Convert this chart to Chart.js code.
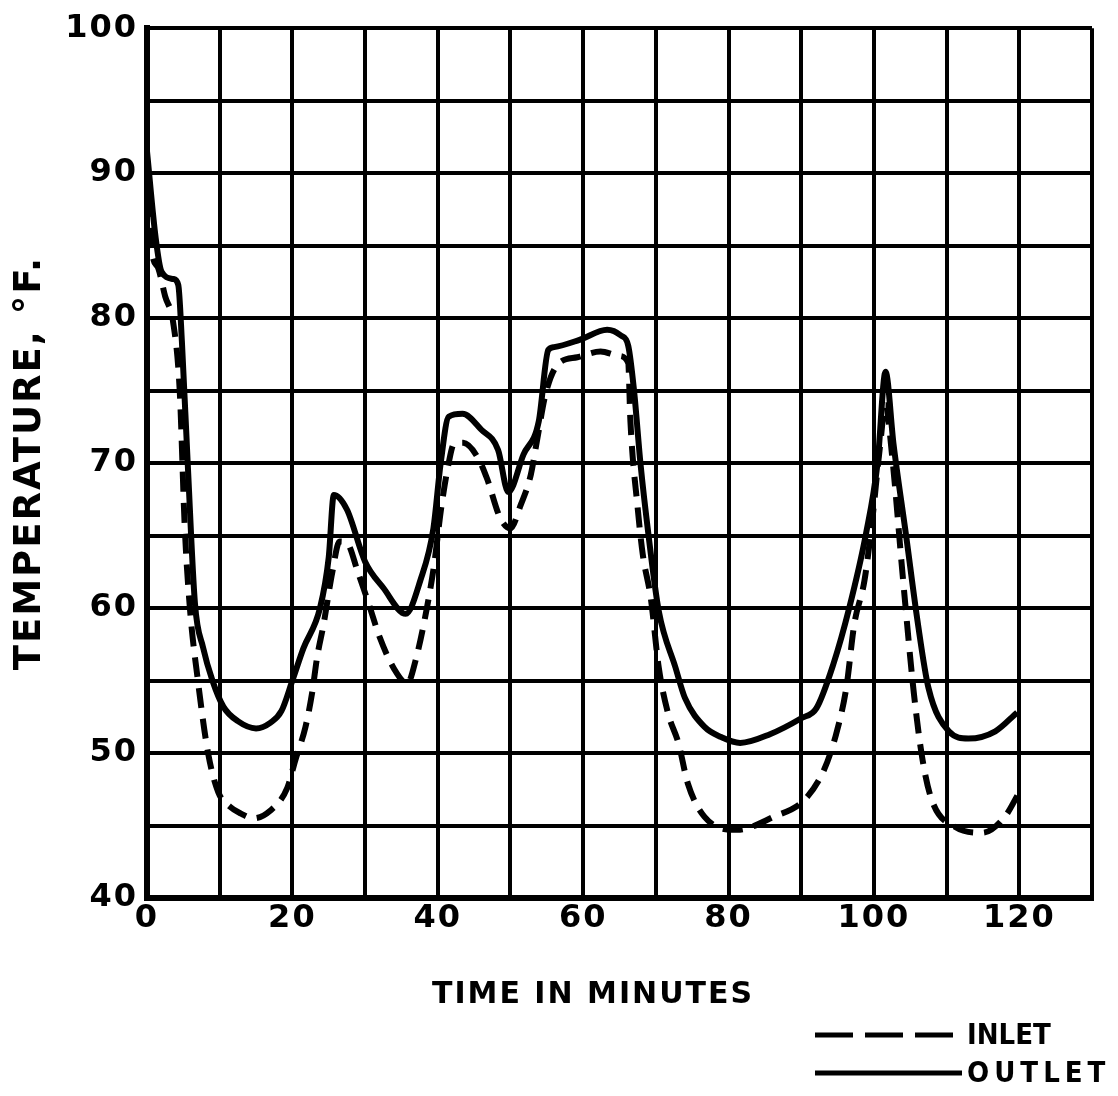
<!DOCTYPE html>
<html>
<head>
<meta charset="utf-8">
<title>Temperature vs time</title>
<style>
  html, body { margin: 0; padding: 0; background: #fff; }
  #wrap { width: 1118px; height: 1096px; position: relative; }
</style>
<script src="https://cdn.jsdelivr.net/npm/chart.js@4.4.1/dist/chart.umd.min.js"></script>
</head>
<body>
<div id="wrap"><canvas id="chart" width="1118" height="1096"></canvas></div>
<script>
// Labelled ticks (grid lines are drawn every 10 min and every 5 °F)
const xTickLabels = [0, 20, 40, 60, 80, 100, 120];
const yTickLabels = [40, 50, 60, 70, 80, 90, 100];

// Inlet temperature, °F, against time in minutes
const inletTime = [0, 0.7, 1.5, 2.5, 3.6, 4.5, 5.2, 5.9, 7, 8.4,
  9.8, 11.4, 13, 14.6, 16.9, 19.3, 20.4, 21.8, 22.7, 23.4,
  24.3, 25.5, 26.5, 27.5, 29, 30.5, 32, 34, 35.8, 37,
  38.5, 39.5, 40.5, 41.5, 42.2, 43.5, 45.6, 46.8, 48.6, 50,
  51.4, 52.8, 53.7, 54.8, 56.5, 59.2, 62.4, 64.9, 66.2, 66.5,
  67.5, 68.2, 69.3, 70.4, 71.7, 73.1, 74.4, 76.7, 81.2, 86.2,
  90.3, 93.1, 94.8, 96.2, 97.3, 98.7, 99.8, 100.8, 101.6, 102.5,
  104, 105.5, 106.7, 108, 111.2, 114.9, 118, 120];
const inletTemp = [90.5, 84.5, 83.5, 81.5, 79.7, 75, 65.5, 60, 55, 50,
  47.3, 46.3, 45.8, 45.5, 46, 47.6, 49.5, 51.8, 54.1, 56.6,
  58.9, 62.5, 64.6, 64.5, 62.5, 60.3, 58, 55.8, 54.8, 56.5,
  60, 63, 67, 70, 71.3, 71.4, 70.3, 68.9, 66.2, 65.5,
  67.1, 69.2, 71.7, 74.7, 76.8, 77.3, 77.7, 77.4, 76.9, 72.9,
  66.9, 63.7, 60.7, 55.9, 52.7, 50.7, 47.9, 45.6, 44.7, 45.6,
  46.7, 48.8, 51.3, 54.5, 58.9, 61.9, 66.2, 71, 74, 70.5,
  62, 54.1, 49.5, 46.7, 44.9, 44.5, 45.6, 47.3];

// Outlet temperature, °F, against time in minutes
const outletTime = [0, 1.2, 2, 3.6, 4.3, 4.8, 5.6, 6.6, 7.7, 9,
  10.5, 12.5, 15, 17, 18.5, 20, 21.5, 23.8, 25, 25.7,
  27.5, 30, 32.5, 35.6, 37.6, 39.4, 40.4, 41.5, 43.4, 46,
  48.3, 49.7, 51.8, 53.9, 55.2, 56, 59.5, 63.3, 65.2, 66.2,
  67, 67.9, 69, 70.4, 72.7, 74, 76.7, 79, 81.6, 85.7,
  90, 92.1, 94.4, 96.6, 98.9, 100.5, 101.6, 102.7, 104.4, 106,
  107.5, 110.3, 113, 116.7, 119.7];
const outletTemp = [91.5, 85.5, 83.2, 82.7, 82.3, 78.4, 70, 60.3, 57.3, 55,
  53.2, 52.2, 51.7, 52.1, 52.9, 55, 57.2, 60, 63.5, 67.8,
  66.8, 63.2, 61.4, 59.6, 61.9, 65.5, 70, 73.2, 73.4, 72.3,
  70.9, 68, 70.6, 72.9, 77.8, 78, 78.5, 79.2, 78.8, 78.1,
  75, 69.9, 65, 59.8, 55.9, 53.8, 51.8, 51.1, 50.7, 51.3,
  52.4, 53.1, 56.1, 60, 65.1, 70, 76.3, 71.3, 65.1, 59.1,
  54.5, 51.5, 51, 51.5, 52.8];

const seriesNames = ['INLET', 'OUTLET'];
const xTitle = 'TIME IN MINUTES';
const yTitle = 'TEMPERATURE, °F.';

const toPoints = (ts, vs) => ts.map((t, i) => ({ x: t, y: vs[i] }));

const INK = '#000';
const boldFont = (size) => ({ family: "'DejaVu Sans', sans-serif", weight: 'bold', size });
const keyFamily = "'DejaVu Sans Condensed', 'DejaVu Sans', sans-serif";

// Slightly spaced lettering for all chart text
const lettering = {
  id: 'lettering',
  beforeDraw(chart) { chart.ctx.letterSpacing = '2px'; }
};

// Time caption under the axis, and the key at the lower right
const captions = {
  id: 'captions',
  afterDraw(chart) {
    const c = chart.ctx;
    c.save();
    c.fillStyle = INK;
    c.letterSpacing = '2px';
    c.font = "bold 30px 'DejaVu Sans', sans-serif";
    c.textAlign = 'center';
    c.textBaseline = 'middle';
    c.fillText(xTitle, 593, 995);

    const rows = [
      { ds: chart.data.datasets[0], y: 1035, spacing: '0px', dash: [38, 12] },
      { ds: chart.data.datasets[1], y: 1073, spacing: '5px', dash: [] }
    ];
    rows.forEach(r => {
      c.strokeStyle = INK;
      c.lineWidth = 5;
      c.setLineDash(r.dash);
      c.beginPath();
      c.moveTo(815, r.y);
      c.lineTo(962, r.y);
      c.stroke();
      c.setLineDash([]);
      c.letterSpacing = r.spacing;
      c.font = "bold 29px " + keyFamily;
      c.textAlign = 'left';
      c.fillText(r.ds.label, 967, r.y + 1);
    });
    c.restore();
  }
};

new Chart(document.getElementById('chart'), {
  type: 'line',
  data: {
    datasets: [
      {
        label: seriesNames[0],
        data: toPoints(inletTime, inletTemp),
        borderColor: INK,
        borderWidth: 6,
        borderDash: [20, 11],
        pointRadius: 0,
        fill: false,
        cubicInterpolationMode: 'monotone'
      },
      {
        label: seriesNames[1],
        data: toPoints(outletTime, outletTemp),
        borderColor: INK,
        borderWidth: 6,
        pointRadius: 0,
        fill: false,
        cubicInterpolationMode: 'monotone'
      }
    ]
  },
  options: {
    responsive: false,
    animation: false,
    devicePixelRatio: 1,
    layout: { padding: { left: 0, top: 25, right: 26, bottom: 0 } },
    plugins: { legend: { display: false }, tooltip: { enabled: false } },
    scales: {
      x: {
        type: 'linear',
        min: 0,
        max: 130,
        afterFit(scale) { scale.height = 198; },
        ticks: {
          stepSize: 10,
          autoSkip: false,
          maxRotation: 0,
          padding: 1,
          color: INK,
          font: boldFont(32),
          callback: (v) => xTickLabels.includes(v) ? String(v) : ''
        },
        grid: { color: INK, lineWidth: 4, drawTicks: false },
        border: { color: INK, width: 6 },
        title: { display: false }
      },
      y: {
        min: 40,
        max: 100,
        afterFit(scale) { scale.width = 147; },
        ticks: {
          stepSize: 5,
          autoSkip: false,
          padding: 9,
          color: INK,
          font: boldFont(32),
          callback: (v) => yTickLabels.includes(v) ? String(v) : ''
        },
        grid: { color: INK, lineWidth: 4, drawTicks: false },
        border: { color: INK, width: 6 },
        title: {
          display: true,
          text: yTitle,
          color: INK,
          font: boldFont(37),
          padding: { top: 8, bottom: 0 }
        }
      }
    }
  },
  plugins: [lettering, captions]
});
</script>
</body>
</html>
